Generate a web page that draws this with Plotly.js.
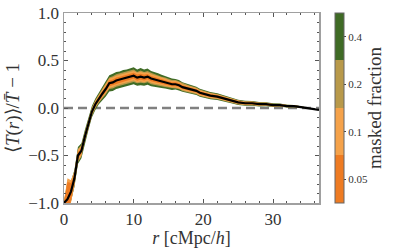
<!DOCTYPE html>
<html>
<head>
<meta charset="utf-8">
<script src="https://cdn.plot.ly/plotly-3.0.1.min.js"></script>
<style>html,body{margin:0;padding:0;background:#fff;}#chart{width:397px;height:248px;}</style>
</head>
<body>
<div id="chart"></div>
<script>
// radial distance r [cMpc/h]
const r = [0,0.5,1,1.5,2,2.5,3,3.5,4,4.5,5,5.5,6,6.5,7,7.5,8,8.5,9,9.5,10,10.5,11,11.5,12,12.5,13,13.5,14,14.5,15,15.5,16,16.5,17,17.5,18,18.5,19,19.5,20,21,22,23,24,25,26,27,28,29,30,31,32,33,34,35,36,36.6];
// mean profile <T(r)>/Tbar - 1
const meanProfile = [-1.0,-0.96,-0.88,-0.74,-0.5,-0.45,-0.3,-0.17,-0.04,0.04,0.1,0.15,0.2,0.26,0.27,0.29,0.30,0.31,0.32,0.33,0.34,0.32,0.33,0.32,0.33,0.31,0.30,0.29,0.28,0.27,0.26,0.25,0.25,0.24,0.22,0.21,0.20,0.19,0.18,0.16,0.15,0.13,0.12,0.10,0.08,0.06,0.05,0.05,0.04,0.04,0.03,0.03,0.02,0.02,0.01,0.00,-0.01,-0.02];
// half-widths of the scatter band for each masked fraction
const err05 = [0.01,0.18,0.09,0.045,0.035,0.03,0.025,0.025,0.02,0.02,0.022,0.025,0.028,0.03,0.03,0.032,0.03,0.032,0.03,0.032,0.03,0.032,0.03,0.03,0.028,0.028,0.027,0.025,0.025,0.024,0.022,0.022,0.021,0.02,0.02,0.019,0.018,0.018,0.017,0.017,0.016,0.015,0.014,0.013,0.012,0.011,0.01,0.01,0.009,0.008,0.008,0.007,0.006,0.005,0.004,0.003,0.001,0.001];
const err10 = [0.02,0.22,0.12,0.07,0.06,0.05,0.04,0.04,0.035,0.035,0.035,0.04,0.045,0.05,0.05,0.05,0.05,0.05,0.05,0.05,0.05,0.05,0.05,0.05,0.045,0.045,0.045,0.04,0.04,0.04,0.035,0.035,0.035,0.035,0.03,0.03,0.03,0.03,0.028,0.028,0.027,0.025,0.023,0.022,0.02,0.018,0.017,0.016,0.015,0.014,0.013,0.012,0.011,0.009,0.007,0.004,0.002,0.001];
const err20 = [0.02,0.2,0.12,0.08,0.07,0.06,0.05,0.05,0.045,0.045,0.045,0.05,0.055,0.06,0.065,0.065,0.065,0.065,0.065,0.065,0.065,0.06,0.065,0.06,0.06,0.06,0.055,0.055,0.05,0.05,0.045,0.045,0.045,0.04,0.04,0.04,0.038,0.036,0.035,0.034,0.033,0.03,0.028,0.026,0.024,0.022,0.021,0.02,0.019,0.017,0.016,0.015,0.013,0.011,0.008,0.005,0.002,0.001];
const err40 = [0.02,0.15,0.1,0.09,0.09,0.08,0.07,0.065,0.06,0.06,0.06,0.07,0.08,0.085,0.09,0.09,0.085,0.09,0.085,0.09,0.09,0.085,0.09,0.085,0.085,0.08,0.08,0.075,0.07,0.065,0.06,0.06,0.055,0.055,0.05,0.05,0.048,0.046,0.044,0.042,0.04,0.038,0.035,0.032,0.03,0.028,0.026,0.025,0.023,0.021,0.02,0.018,0.015,0.012,0.008,0.005,0.002,0.001];
const fractionLabels = ['0.05','0.1','0.2','0.4'];
const fractionColors = ['#ee7b22','#f5a24a','#b8994a','#3f6b25'];

const FONT = 'Liberation Serif';
const TXT = '#333';
const bandErrs = [err40, err20, err10, err05];
const bandColors = [fractionColors[3], fractionColors[2], fractionColors[1], fractionColors[0]];

const traces = [];
bandErrs.forEach((e, k) => {
  const up = meanProfile.map((m, i) => m + e[i]);
  const lo = meanProfile.map((m, i) => m - e[i]);
  traces.push({
    x: r.concat(r.slice().reverse()),
    y: up.concat(lo.slice().reverse()),
    type: 'scatter', mode: 'lines', fill: 'toself',
    fillcolor: bandColors[k], line: {width: 0, color: bandColors[k]},
    hoverinfo: 'skip', showlegend: false
  });
});
traces.push({
  x: r, y: meanProfile, type: 'scatter', mode: 'lines',
  line: {color: '#000', width: 2.2}, showlegend: false
});
// colorbar carrier
traces.push({
  x: [r[0]], y: [meanProfile[0]], type: 'scatter', mode: 'markers',
  hoverinfo: 'skip', showlegend: false,
  marker: {
    size: 0.1, opacity: 0, color: [0], cmin: 0, cmax: 4,
    colorscale: [[0, fractionColors[0]],[0.25, fractionColors[0]],[0.25, fractionColors[1]],[0.5, fractionColors[1]],[0.5, fractionColors[2]],[0.75, fractionColors[2]],[0.75, fractionColors[3]],[1, fractionColors[3]]],
    showscale: true,
    colorbar: {
      x: 1.062, xanchor: 'left', xpad: 0, y: 0.5, yanchor: 'middle', ypad: 0,
      len: 1, lenmode: 'fraction', thickness: 9, thicknessmode: 'pixels',
      outlinewidth: 1, outlinecolor: '#666',
      tickvals: [0.5, 1.5, 2.5, 3.5], ticktext: fractionLabels,
      ticks: 'outside', ticklen: 2, tickcolor: '#444',
      tickfont: {family: FONT, size: 11, color: TXT},
      title: {text: 'masked fraction', side: 'right', font: {family: FONT, size: 19, color: TXT}}
    }
  }
});

const layout = {
  width: 397, height: 248,
  margin: {l: 64, r: 74, t: 13, b: 45},
  paper_bgcolor: '#fff', plot_bgcolor: '#fff',
  font: {family: FONT, color: TXT, size: 17},
  xaxis: {
    range: [0, 36.6], tickvals: [0, 10, 20, 30], ticks: 'inside', ticklen: 4, tickcolor: '#555',
    minor: {dtick: 2, ticks: 'inside', ticklen: 2, tickcolor: '#555'},
    showline: true, linecolor: '#a0a0a0', linewidth: 1.5, mirror: 'allticks',
    showgrid: false, zeroline: false,
    tickfont: {family: FONT, size: 17, color: TXT},
    title: {text: '<i>r</i> [cMpc/<i>h</i>]', font: {family: FONT, size: 18, color: TXT}, standoff: 3}
  },
  yaxis: {
    range: [-1, 1], tickvals: [-1, -0.5, 0, 0.5, 1], ticktext: ['\u22121.0','\u22120.5','0.0','0.5','1.0'],
    ticks: 'inside', ticklen: 4, tickcolor: '#555',
    minor: {dtick: 0.1, ticks: 'inside', ticklen: 2, tickcolor: '#555'},
    showline: true, linecolor: '#a0a0a0', linewidth: 1.5, mirror: 'allticks',
    showgrid: false, zeroline: false,
    tickfont: {family: FONT, size: 17, color: TXT},
    title: {text: '\u27E8<i>T</i>(<i>r</i>)\u27E9/<i>T\u0304</i> \u2212 1', font: {family: FONT, size: 19, color: TXT}, standoff: 3}
  },
  shapes: [{
    type: 'line', xref: 'paper', x0: 0, x1: 1, yref: 'y', y0: 0, y1: 0,
    line: {color: '#808080', width: 2.5, dash: '9px,5px'}, layer: 'below'
  }]
};

Plotly.newPlot('chart', traces, layout, {displayModeBar: false, staticPlot: true});
</script>
</body>
</html>
